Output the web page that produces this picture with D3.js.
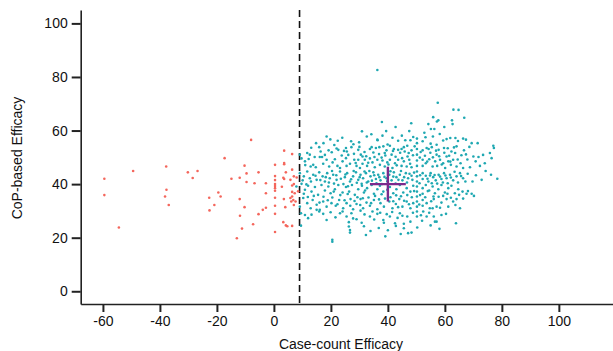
<!DOCTYPE html>
<html>
<head>
<meta charset="utf-8">
<script src="https://cdn.jsdelivr.net/npm/d3@7"></script>
<style>
  body { margin: 0; background: #fff; }
  svg { display: block; font-family: 'Liberation Sans', Arial, sans-serif; }
</style>
</head>
<body>
<svg id="chart"></svg>
<script>
// threshold on the case-count axis
let threshold = 9
let xTicks = [-60, -40, -20, 0, 20, 40, 60, 80, 100]
let yTicks = [0, 20, 40, 60, 80, 100]
// mean and spread shown as the cross
let crossCenter = [40, 40]
let crossHalf = [6.3, 6.5]

// case-count efficacy below the threshold
let lowPoints = [
  [-59.5,42.0],[-59.5,35.9],[-54.4,23.8],[-49.4,44.9],[-37.8,46.6],[-37.7,37.9],[-38.2,35.4],[-36.9,32.2],
  [-30.2,44.4],[-28.5,42.3],[-26.8,44.9],[-22.7,34.9],[-20.9,32.2],[-22.6,30.2],[-19.5,36.9],[-18.7,35.4],
  [-17.3,49.7],[-14.9,42.0],[-13.0,19.8],[-12.0,42.4],[-12.0,34.4],[-11.9,28.2],[-11.2,23.4],[-10.3,46.9],
  [-9.6,44.0],[-9.6,40.8],[-10.3,31.4],[-8.0,56.5],[-7.3,25.0],[-6.8,40.3],[-5.4,44.4],[-5.4,28.8],
  [-3.9,30.4],[-2.8,40.3],[-2.8,36.6],[-2.8,31.2],[0.4,47.2],[0.4,43.0],[0.4,41.5],[0.4,40.0],
  [0.4,39.3],[0.4,38.5],[0.4,37.5],[0.4,34.9],[0.4,31.9],[0.4,28.9],[0.4,22.1],[2.8,39.0],
  [3.3,25.8],[3.6,52.5],[3.6,47.9],[3.6,47.4],[3.3,42.4],[3.6,41.9],[4.2,44.4],[4.2,24.6],
  [4.7,24.3],[4.0,31.4],[3.5,34.4],[5.8,41.6],[6.4,51.2],[6.4,45.4],[6.4,39.5],[6.4,37.1],
  [6.4,35.4],[6.4,24.4],[6.8,34.1],[7.0,42.9],[7.0,40.0],[7.0,32.2],[7.3,36.6],[7.6,33.5],
  [8.0,42.5],[8.5,37.3],[5.8,34.8],[6.1,33.5]
]

// case-count efficacy above the threshold
let highPoints = [
  [36.3,82.6],[57.5,70.4],[63.0,67.8],[64.8,67.7],[66.8,64.8],[55.9,65.0],[57.2,63.4],[57.7,63.8],
  [62.5,63.8],[62.7,62.4],[54.2,62.4],[55.1,60.6],[56.3,60.6],[59.8,61.3],[37.9,63.2],[48.2,62.7],
  [30.9,59.7],[39.4,59.8],[38.1,58.1],[36.4,56.4],[36.3,56.6],
  [14.8,55.3],[17.4,55.3],[18.5,57.8],[19.8,56.7],[22.4,56.2],[29.9,55.6],[40.7,54.3],[43.6,56.2],
  [46.1,56.4],[47.9,56.4],[50.2,55.3],[52.2,56.0],[55.0,55.1],[57.1,54.7],[59.4,56.3],[60.6,56.8],
  [63.7,57.2],[66.4,57.0],[67.4,56.6],[69.4,55.3],[71.5,55.3],[77.0,54.3],
  [24.0,57.3],[27.1,56.0],[32.6,57.8],[34.2,58.6],[41.6,57.3],[44.9,58.1],[48.9,57.6],[50.2,57.0],
  [53.2,57.5],[55.8,57.8],[58.2,58.7],[61.9,57.2],[64.6,56.1],[47.5,59.8],[42.7,61.3],[52.8,59.2],
  [9.1,51.0],[11.7,51.6],[12.6,51.0],[16.4,52.2],[15.9,53.8],[22.0,53.3],[22.6,52.8],[25.3,53.5],
  [25.6,52.2],[27.2,53.8],[28.1,51.3],[29.6,52.8],[30.5,51.0],[31.1,50.3],[33.7,53.1],[34.3,53.8],
  [35.8,53.5],[37.0,53.8],[38.4,54.1],[38.9,51.6],[39.5,52.6],[41.3,51.0],[42.1,53.1],[43.6,52.8],
  [44.8,53.1],[45.6,53.8],[46.8,54.3],[47.3,51.6],[48.3,52.6],[50.2,53.1],[50.2,51.0],[52.2,52.6],
  [53.6,53.5],[54.3,53.1],[55.4,53.8],[57.1,51.0],[57.8,52.8],[59.7,53.5],[60.6,50.3],[61.5,50.6],
  [62.3,52.2],[63.6,51.6],[64.1,54.1],[66.7,52.6],[67.4,51.1],[70.0,50.3],[71.8,50.1],[75.8,51.6],
  [77.2,53.5],[76.4,49.7],
  [20.3,51.9],[21.2,54.6],[23.8,50.7],[24.6,52.4],[26.1,50.9],[27.9,54.9],[28.7,47.9],[30.0,53.9],
  [31.8,52.0],[32.4,50.4],[33.1,48.0],[34.9,51.8],[35.3,50.1],[36.9,51.2],[37.8,49.9],[39.1,50.7],
  [39.9,54.8],[40.2,47.3],[41.8,52.4],[42.7,50.2],[43.1,47.0],[44.3,51.7],[45.0,49.7],[45.9,52.2],
  [46.9,50.3],[47.8,47.6],[48.8,50.8],[49.4,54.1],[51.2,49.9],[51.5,52.0],[53.0,50.6],[53.8,48.4],
  [54.9,51.7],[55.8,50.0],[56.9,52.5],[58.0,50.4],[58.9,47.3],[59.8,51.7],[61.0,53.4],[61.9,48.4],
  [63.2,53.7],[64.5,49.2],[65.8,50.8],[67.9,49.2],[68.6,53.9],[70.8,48.5],[73.4,50.9],[19.2,52.6],
  [17.9,50.9],[14.3,50.1],[13.1,53.6],[11.0,47.1],[12.2,49.4],
  [9.7,49.6],[10.9,48.5],[12.9,46.6],[13.8,47.2],[14.7,46.3],[16.1,50.1],[16.9,50.1],[17.3,47.6],
  [18.5,49.1],[19.4,46.6],[20.6,48.1],[21.4,49.3],[22.3,46.8],[23.2,46.0],[24.1,48.5],[25.3,49.7],
  [25.5,46.8],[26.7,47.6],[28.2,49.1],[29.0,46.8],[29.6,49.1],[30.2,46.0],[31.1,47.6],[31.9,49.1],
  [32.7,46.8],[33.7,49.6],[34.6,48.1],[35.4,46.3],[36.3,49.1],[37.2,47.2],[38.1,48.8],[38.9,46.6],
  [39.8,48.1],[40.7,49.1],[41.6,46.0],[42.5,47.8],[43.6,49.1],[44.8,46.8],[45.6,48.5],[46.6,46.6],
  [47.5,49.1],[48.3,46.3],[50.2,48.8],[50.2,46.8],[52.2,49.1],[52.2,46.8],[53.3,47.8],[54.5,49.3],
  [55.7,46.6],[56.6,48.5],[57.3,46.8],[58.3,49.1],[59.4,47.8],[60.1,46.0],[61.2,48.5],[62.1,47.2],
  [62.9,49.1],[64.1,46.6],[65.5,47.8],[66.4,46.0],[68.8,46.3],[72.3,46.8],[74.0,47.8],
  [9.1,44.1],[10.5,42.9],[11.7,44.7],[12.6,42.2],[13.8,43.5],[15.0,41.6],[15.9,44.4],[17.1,42.9],
  [17.9,41.0],[18.7,44.1],[19.6,42.2],[20.8,43.5],[22.0,41.6],[23.2,44.7],[24.9,42.6],[25.7,44.1],
  [26.7,41.0],[27.8,42.9],[28.8,44.4],[29.6,41.6],[30.4,43.5],[31.3,42.2],[32.3,44.1],[33.1,41.0],
  [33.9,42.9],[34.9,44.4],[35.8,41.9],[36.6,43.5],[37.4,41.4],[38.4,44.1],[39.5,42.2],[40.5,43.5],
  [41.3,41.4],[42.1,44.4],[43.0,42.6],[44.2,43.5],[45.1,41.4],[46.3,44.1],[47.1,42.2],[48.3,43.1],
  [50.2,44.7],[50.2,42.9],[50.2,41.0],[52.2,44.1],[52.2,41.9],[53.3,43.1],[54.2,41.0],[55.0,44.1],
  [55.9,42.6],[56.8,41.4],[57.8,43.5],[58.8,41.9],[59.7,44.1],[60.6,42.2],[61.8,43.5],[62.9,41.4],
  [64.1,42.9],[65.3,44.1],[66.4,42.2],[69.7,41.0],[72.9,41.6],[76.2,43.5],[78.4,42.0],
  [10.1,41.4],[11.4,39.9],[13.0,41.0],[14.6,43.1],[16.3,41.5],[18.2,42.6],[19.3,40.6],[20.4,44.9],
  [21.1,40.2],[21.9,43.3],[23.5,42.0],[24.4,40.0],[25.1,43.6],[26.0,39.2],[27.1,41.8],[28.0,44.9],
  [29.1,40.5],[30.1,42.6],[30.9,39.4],[31.8,44.7],[32.6,40.6],[33.5,44.9],[34.4,41.3],[35.2,43.3],
  [36.0,40.3],[37.0,42.6],[37.9,40.0],[38.8,42.7],[39.8,41.1],[40.9,44.8],[41.9,42.8],[42.7,40.2],
  [43.7,41.6],[44.6,44.9],[45.7,42.6],[46.7,40.6],[47.6,43.9],[48.6,41.6],[49.2,44.3],[51.1,40.3],
  [51.3,43.3],[53.9,42.0],[54.8,43.2],[55.4,40.3],[56.4,43.4],[57.3,40.2],[58.3,42.8],[59.3,40.6],
  [60.2,43.2],[61.0,40.3],[62.1,42.5],[63.4,44.6],[64.6,40.6],[65.7,43.0],[67.2,41.0],[68.0,43.9],
  [70.9,43.3],[74.3,44.9],
  [7.9,39.1],[9.7,40.1],[10.9,37.9],[12.0,39.4],[13.2,37.2],[14.4,38.9],[15.5,36.0],[16.7,39.7],
  [17.9,37.6],[19.1,39.1],[19.9,36.6],[21.4,38.1],[22.6,39.7],[24.1,36.9],[25.3,38.9],[26.4,37.2],
  [27.4,39.7],[28.4,36.0],[29.6,38.1],[30.8,40.1],[31.6,36.9],[32.7,38.5],[34.3,39.7],[35.1,36.4],
  [36.3,38.1],[37.2,39.4],[38.4,37.2],[40.7,38.9],[41.9,36.6],[43.0,38.1],[44.2,39.7],[45.4,36.9],
  [46.6,38.5],[47.9,37.2],[48.9,39.4],[50.2,39.1],[50.2,37.2],[50.2,35.4],[52.2,38.5],[52.2,36.4],
  [53.3,39.7],[54.5,37.6],[55.7,39.1],[56.5,36.6],[57.7,38.1],[58.8,39.7],[60.0,36.9],[61.2,38.5],
  [62.3,39.4],[63.5,36.6],[64.7,38.1],[66.2,37.2],[67.6,36.4],[69.4,36.4],[70.2,35.6],
  [10.5,36.4],[11.9,35.2],[14.0,35.6],[16.0,33.1],[17.4,35.3],[18.9,34.0],[20.5,35.0],[21.0,37.2],
  [22.3,32.5],[23.3,35.9],[24.8,34.0],[25.9,36.3],[26.8,31.9],[28.3,33.7],[29.3,35.1],[30.3,32.2],
  [31.2,34.7],[32.0,37.6],[33.2,35.0],[34.1,32.9],[35.5,35.6],[36.9,34.3],[37.8,36.2],[39.0,34.6],
  [39.8,37.9],[40.9,35.1],[41.9,33.6],[42.9,35.8],[43.6,31.4],[44.6,35.5],[45.7,33.8],[46.8,35.9],
  [47.4,32.5],[48.4,35.1],[49.2,37.4],[51.3,35.9],[51.0,32.4],[53.1,35.1],[54.0,37.4],[55.2,33.6],
  [56.0,35.4],[57.8,35.3],[58.3,31.2],[59.4,35.6],[60.9,36.4],[62.1,34.9],[63.7,32.2],[65.0,36.0],
  [66.4,34.6],[68.1,37.4],
  [9.1,31.6],[10.3,34.8],[11.7,32.9],[12.9,31.0],[13.6,34.1],[15.0,32.3],[16.1,30.4],[17.3,33.5],
  [18.5,31.6],[20.2,32.9],[21.7,31.9],[22.9,34.1],[24.3,31.0],[25.5,32.9],[26.9,34.4],[27.8,30.6],
  [29.0,32.6],[30.4,34.4],[31.3,31.0],[32.5,33.1],[33.7,31.9],[35.1,34.1],[36.3,30.6],[37.4,32.9],
  [38.6,31.6],[40.5,33.5],[41.6,31.0],[42.8,32.6],[44.0,34.4],[45.1,31.6],[46.6,33.5],[47.9,31.0],
  [48.9,32.9],[50.2,33.5],[50.2,31.6],[52.2,34.1],[52.2,31.9],[53.6,32.9],[54.7,31.0],[56.1,34.4],
  [57.1,31.6],[58.8,33.1],[60.6,34.4],[61.2,31.6],[62.9,33.5],[64.1,34.4],[65.3,31.0],
  [9.5,29.1],[10.9,28.5],[12.0,27.3],[15.0,30.4],[15.9,29.8],[17.3,28.9],[18.5,26.6],[24.1,29.8],
  [25.5,27.9],[26.3,25.8],[27.2,29.1],[29.0,26.9],[30.4,30.1],[30.8,25.6],[33.7,27.9],[36.3,28.9],
  [38.4,26.6],[38.6,25.6],[40.7,27.9],[42.5,25.4],[44.2,29.1],[45.6,25.2],[46.8,27.9],[47.9,26.0],
  [50.2,29.8],[50.2,27.9],[52.4,29.8],[53.6,27.9],[55.7,31.0],[56.1,27.9],[57.1,26.0],[58.8,28.5],
  [60.4,28.9],[63.9,25.4],[56.5,26.0],
  [13.2,28.6],[19.9,29.5],[21.6,27.6],[23.2,29.1],[27.8,27.2],[31.8,28.7],[34.6,29.8],[35.2,26.8],
  [37.3,29.3],[39.6,28.8],[41.5,29.6],[43.4,27.4],[45.1,28.2],[48.8,29.3],[51.6,28.4],[54.5,29.3],
  [31.6,24.3],[36.8,23.6],[40.0,22.8],[44.5,21.4],[55.0,24.6],[58.1,23.3],[39.1,20.5],[52.0,26.3],
  [9.5,24.5],[26.3,24.2],[26.7,22.9],[26.7,21.9],[32.3,21.0],[33.9,22.5],[42.8,24.4],[45.6,23.5],
  [47.1,21.7],[48.3,21.9],[50.3,23.8],[20.5,19.2],[20.5,18.5]
]

let width = 613
let height = 351
let margin = { top: 10, right: 0, bottom: 47, left: 80.7 }

let svg = d3.select('#chart')
  .attr('width', width)
  .attr('height', height)

let x = d3.scaleLinear().domain([-67.8, 119]).range([margin.left, width - margin.right])
let y = d3.scaleLinear().domain([-4.75, 105]).range([height - margin.bottom, margin.top])

// plain hyphen for negatives, as in the original
let xAxis = d3.axisBottom(x).tickValues(xTicks).tickFormat(d => String(d))
  .tickSize(8).tickSizeOuter(0).tickPadding(4)
let yAxis = d3.axisLeft(y).tickValues(yTicks).tickFormat(d => String(d))
  .tickSize(9).tickSizeOuter(0).tickPadding(4)

let gx = svg.append('g')
  .attr('transform', 'translate(0,' + (height - margin.bottom) + ')')
  .call(xAxis)
let gy = svg.append('g')
  .attr('transform', 'translate(' + margin.left + ',0)')
  .call(yAxis)

for (let g of [gx, gy]) {
  g.select('.domain').attr('stroke', '#222').attr('stroke-width', 1.6)
  g.selectAll('.tick line').attr('stroke', '#222').attr('stroke-width', 2)
  g.selectAll('.tick text')
    .attr('fill', '#111')
    .attr('font-size', '14px')
    .attr('font-family', "'Liberation Sans', Arial, sans-serif")
}

svg.append('text')
  .attr('x', 341)
  .attr('y', 349)
  .attr('text-anchor', 'middle')
  .attr('font-size', '14px')
  .attr('fill', '#111')
  .text('Case-count Efficacy')

svg.append('text')
  .attr('transform', 'translate(22,158) rotate(-90)')
  .attr('text-anchor', 'middle')
  .attr('font-size', '14px')
  .attr('fill', '#111')
  .text('CoP-based Efficacy')

// threshold line
svg.append('line')
  .attr('x1', x(threshold)).attr('x2', x(threshold))
  .attr('y1', margin.top).attr('y2', height - margin.bottom)
  .attr('stroke', '#111')
  .attr('stroke-width', 1.6)
  .attr('stroke-dasharray', '7,4')

let dots = svg.append('g')
dots.selectAll('.low')
  .data(lowPoints)
  .enter()
  .append('circle')
  .attr('class', 'low')
  .attr('cx', d => x(d[0]))
  .attr('cy', d => y(d[1]))
  .attr('r', 1.3)
  .attr('fill', '#F4665C')

dots.selectAll('.high')
  .data(highPoints)
  .enter()
  .append('circle')
  .attr('class', 'high')
  .attr('cx', d => x(d[0]))
  .attr('cy', d => y(d[1]))
  .attr('r', 1.3)
  .attr('fill', '#1FA8B2')

// mean cross
let cross = svg.append('g').attr('stroke', '#7B2A8C').attr('stroke-width', 2.4)
cross.append('line')
  .attr('x1', x(crossCenter[0] - crossHalf[0])).attr('x2', x(crossCenter[0] + crossHalf[0]))
  .attr('y1', y(crossCenter[1])).attr('y2', y(crossCenter[1]))
cross.append('line')
  .attr('x1', x(crossCenter[0])).attr('x2', x(crossCenter[0]))
  .attr('y1', y(crossCenter[1] - crossHalf[1])).attr('y2', y(crossCenter[1] + crossHalf[1]))
</script>
</body>
</html>
